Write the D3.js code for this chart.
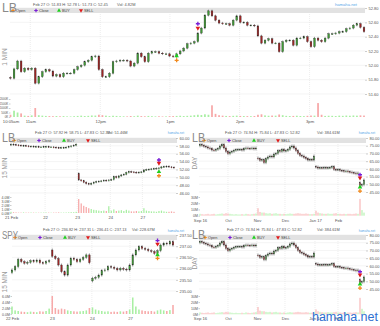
<!DOCTYPE html>
<html>
<head>
<meta charset="utf-8">
<script src="https://cdn.jsdelivr.net/npm/d3@7"></script>
<style>
body { margin: 0; background: #fff; }
svg { display: block; font-family: "Liberation Sans", Arial, sans-serif; }
</style>
</head>
<body>
<svg id="chart" width="380" height="326"></svg>
<script>
// ---- LB 1 minute ----
const min1Closes = [51.82, 51.95, 52.06, 51.91, 51.96, 51.94, 51.96, 51.75, 51.84, 51.91,
  51.94, 51.92, 51.85, 51.87, 51.84, 51.89, 51.89, 51.89, 51.94, 51.98,
  52.00, 52.05, 52.07, 52.12, 52.13, 51.94, 51.84, 51.84, 51.89, 52.05,
  52.06, 52.07, 52.07, 52.06, 51.99, 52.03, 52.17, 52.12, 52.05, 52.17,
  52.19, 52.19, 52.17, 52.16, 52.16, 52.13, 52.12, 52.16, 52.20, 52.24,
  52.30, 52.31, 52.33, 52.45, 52.52, 52.70, 52.76, 52.69, 52.63, 52.59,
  52.58, 52.58, 52.56, 52.63, 52.69, 52.60, 52.60, 52.56, 52.56, 52.55,
  52.41, 52.31, 52.35, 52.37, 52.31, 52.31, 52.19, 52.33, 52.35, 52.35,
  52.28, 52.38, 52.38, 52.40, 52.33, 52.26, 52.38, 52.35, 52.33, 52.38,
  52.44, 52.44, 52.45, 52.47, 52.47, 52.51, 52.52, 52.56, 52.58, 52.53, 52.47];
const min1GapOpens = { 0: 51.83 };
const min1Volume = [250, 700, 500, 400, 150, 120, 180, 1000, 200, 150,
  120, 100, 90, 110, 80, 100, 70, 60, 90, 120,
  150, 110, 130, 170, 160, 250, 200, 150, 100, 140,
  120, 90, 80, 70, 110, 90, 150, 100, 80, 120,
  90, 70, 80, 60, 70, 90, 100, 120, 140, 110,
  130, 150, 200, 250, 220, 300, 250, 1300, 350, 200,
  150, 120, 100, 130, 150, 120, 110, 100, 90, 110,
  250, 300, 180, 140, 160, 150, 280, 200, 130, 110,
  120, 140, 110, 100, 130, 160, 150, 1550, 250, 120,
  140, 130, 110, 150, 130, 160, 140, 170, 150, 180, 160];
const min1TimeTicks = [0, 5.6, 25.4, 45.1, 64.8, 84.6];
const min1TimeLabels = ["10:05am", "11am", "12pm", "1pm", "2pm", "3pm"];
const min1PriceTicks = [51.6, 51.8, 52.0, 52.2, 52.4, 52.6, 52.8];
const min1VolTicks = [0, 500, 1000, 1500, 2000];
const min1VolLabels = ["0K", "500K", "1000K", "1500K", "2000K"];
const min1Marks = [
  { type: "buy", i: 47, v: 52.13 }, { type: "open", i: 47, v: 52.07 },
  { type: "close", i: 53, v: 52.58 }, { type: "sell", i: 53, v: 52.52 }];

// ---- LB 15 minute ----
const lb15Closes = [58.39, 58.31, 58.22, 58.14, 58.05, 58.05, 57.97, 57.88, 57.88, 57.80,
  57.80, 57.71, 57.71, 57.80, 57.80, 57.71, 57.71, 57.63, 57.54, 57.46,
  57.54, 57.54, 57.63, 57.80, 57.97, 58.14, 58.39,
  49.32, 49.10, 48.73, 48.39, 48.22, 48.47, 48.73, 48.90, 48.98, 49.07,
  49.24, 49.15, 49.30, 49.41, 50.17, 49.92, 50.34, 50.59, 50.76, 51.19,
  51.44, 51.36, 51.27, 51.19, 51.27, 51.36, 51.86, 51.95, 52.03, 52.12,
  52.20, 52.29, 52.37, 52.63, 52.71, 52.80, 52.63, 52.54, 52.46];
const lb15GapOpens = { 0: 58.2, 27: 51.0 };
const lb15Volume = [0.3, 0.2, 0.15, 0.1, 0.1, 0.15, 0.1, 0.1, 0.12, 0.1,
  0.1, 0.08, 0.1, 0.1, 0.12, 0.1, 0.08, 0.1, 0.12, 0.15,
  0.1, 0.1, 0.12, 0.15, 0.2, 0.2, 0.3,
  3.5, 2.4, 1.8, 1.5, 1.2,
  1.0, 0.8, 0.7, 0.6, 0.5, 0.6, 0.5, 1.7, 0.6, 0.9,
  0.5, 0.6, 0.7, 0.5, 0.8, 0.6, 0.4, 0.4, 0.5, 0.4,
  0.5, 1.2, 0.6, 0.5, 0.4, 0.4, 0.3, 0.5, 0.6, 0.4,
  0.3, 0.3, 0.4, 0.3];
const lb15TimeTicks = [0, 13.6, 26.4, 39.6, 52.4];
const lb15TimeLabels = ["21 Feb", "22", "23", "24", "27"];
const lb15PriceTicks = [46, 48, 50, 52, 54, 56, 58, 60];
const lb15VolTicks = [0, 1, 2, 3, 4];
const lb15VolLabels = ["0.0M", "1.0M", "2.0M", "3.0M", "4.0M"];
const lb15Marks = [
  { type: "close", i: 59, v: 54.4 }, { type: "sell", i: 59, v: 53.6 },
  { type: "buy", i: 59, v: 51.4 }, { type: "open", i: 59, v: 50.4 }];

// ---- LB daily ----
const dayCloses = [75.7, 75.2, 74.6, 74.2, 73.5, 73.1, 72.2, 72.0, 72.6, 73.1,
  74.8, 75.7, 73.5, 71.3, 69.8, 70.9, 71.3, 72.0, 72.4, 72.6,
  72.6, 72.2, 73.1, 73.5, 73.3, 73.1, 73.5, 72.9, 73.5, 66.6,
  65.5, 65.9, 64.0, 66.6, 67.7, 68.3, 67.7, 69.6, 70.0, 71.8,
  71.3, 72.6, 71.6, 71.8, 72.6, 74.2, 74.8, 73.5, 71.8, 70.0,
  68.7, 68.3, 67.4, 66.6, 65.7, 66.1, 65.7, 68.3, 61.2, 60.5,
  60.7, 60.5, 60.9, 60.5, 60.7, 60.9, 61.4, 59.6, 59.4, 59.6,
  59.0, 58.8, 58.4, 58.6, 58.1, 57.9, 57.5, 57.3, 56.8, 57.3,
  49.3, 49.7, 52.8];
const dayGapOpens = { 0: 74.94, 29: 67.0, 58: 61.5, 80: 51.0 };
const dayVolume = [3, 2.5, 2, 2.5, 3, 2, 2.5, 3, 2, 2.5,
  3, 3.5, 3, 4, 3.5, 3, 2.5, 2, 2.5, 2,
  2, 2.5, 2, 3, 2.5, 2, 2.5, 3, 3.5, 12,
  6, 5, 5, 4, 3.5, 4, 3, 3.5, 4, 3,
  3, 2.5, 3, 2.5, 3, 3.5, 3, 3, 3.5, 4,
  3.5, 3, 3, 3.5, 3, 2.5, 2.5, 3, 8, 5,
  4, 3.5, 3, 3, 3.5, 3, 3, 3.5, 4, 3,
  3, 2.5, 3, 2.5, 3, 3, 2.5, 3, 3.5, 3,
  27, 9, 5];
const dayTimeTicks = [0, 14, 28.5, 42.5, 57.5, 69];
const dayTimeLabels = ["Sep 16", "Oct", "Nov", "Dec", "Jan 17", "Feb"];
const dayPriceTicks = [45, 50, 55, 60, 65, 70, 75, 80];
const dayVolTicks = [0, 10, 20, 30];
const dayVolLabels = ["0M", "10M", "20M", "30M"];
const dayMarks = [
  { type: "close", i: 80, v: 56.2 }, { type: "sell", i: 80, v: 54.2 },
  { type: "buy", i: 80, v: 48.2 }, { type: "open", i: 80, v: 45.6 }];

// ---- SPY 15 minute ----
const spyCloses = [235.94, 236.09, 236.41, 236.31, 236.24, 236.28, 236.35, 236.31, 236.38, 236.26,
  236.24, 236.31, 236.35, 236.55, 236.45, 236.16, 235.86, 235.71, 236.16, 236.46,
  236.41, 236.31, 236.41, 236.50, 236.61, 236.26, 235.57, 235.61, 235.71, 235.91,
  235.94, 236.09, 236.06, 236.01, 235.94, 236.01, 235.97, 235.94, 236.16, 236.61,
  236.83, 236.98, 236.90, 236.86, 236.80, 236.76, 236.68, 236.80, 237.05, 237.13,
  237.10, 237.20, 237.05];
const spyGapOpens = { 0: 235.82, 13: 236.83, 26: 235.45 };
const spyVolume = [2.5, 1.2, 1.0, 0.8, 0.7, 0.6, 0.8, 0.7, 0.6, 0.9,
  0.8, 1.0, 1.8, 6.0, 2.0, 1.5, 1.8, 1.6, 1.2, 1.0,
  0.9, 0.8, 0.9, 1.0, 1.2, 2.0, 2.2, 1.5, 1.2, 1.0,
  0.8, 0.9, 0.7, 0.8, 0.7, 0.9, 0.8, 1.0, 1.5, 5.5,
  2.5, 1.5, 1.2, 1.0, 0.9, 1.0, 0.8, 1.2, 1.5, 1.2,
  1.0, 1.3, 3.0];
const spyTimeTicks = [0, 12.9, 25.8, 38.1];
const spyTimeLabels = ["22 Feb", "23", "24", "27"];
const spyPriceTicks = [235, 235.5, 236, 236.5, 237, 237.5];
const spyVolTicks = [0, 2, 4, 6];
const spyVolLabels = ["0.0M", "2.0M", "4.0M", "6.0M"];
const spyMarks = [
  { type: "close", i: 47, v: 237.25 }, { type: "sell", i: 47, v: 237.10 },
  { type: "buy", i: 47, v: 236.61 }, { type: "open", i: 47, v: 236.46 }];

const legendNames = ["Open", "Close", "BUY", "SELL"];

const svg = d3.select("#chart");

const markColor = { open: "#f0891d", close: "#7a1fd6", buy: "#1fcf1f", sell: "#e01b1b" };
function markPath(type, size) {
  if (type === "open" || type === "close") return d3.symbol(d3.symbolCross, size)();
  return d3.symbol(d3.symbolTriangle, size)();
}

function drawPanel(p) {
  const g = svg.append("g");
  const n = p.closes.length;
  const x = d3.scaleLinear().domain([0, n - 1]).range([p.x0, p.x1]);
  const y = d3.scaleLinear().domain(p.priceDomain).range([p.priceBottom, p.priceTop]);
  const vy = d3.scaleLinear().domain(p.volDomain).range([p.volBottom, p.volTop]);
  const step = (p.x1 - p.x0) / (n - 1);
  const bw = Math.max(0.9, step * 0.5);

  const candles = p.closes.map((c, i) => {
    const o = p.gapOpens[i] !== undefined ? p.gapOpens[i] : p.closes[i - 1];
    return { i: i, o: o, c: c, v: p.volume[i], up: c >= o };
  });

  // horizontal grid
  g.selectAll(".hgrid").data(p.priceTicks).enter().append("line")
    .attr("x1", p.gridX0).attr("x2", p.axisX)
    .attr("y1", d => y(d)).attr("y2", d => y(d))
    .attr("stroke", "#ececec").attr("stroke-width", 0.6);

  // vertical grid
  g.selectAll(".vgrid").data(p.timeTicks.slice(1)).enter().append("line")
    .attr("x1", d => x(d)).attr("x2", d => x(d))
    .attr("y1", p.bandY).attr("y2", p.volBottom)
    .attr("stroke", "#e2e2e2").attr("stroke-width", 0.6)
    .attr("stroke-dasharray", "1,1");

  // legend band
  g.append("rect")
    .attr("x", p.bandX0).attr("y", p.bandY)
    .attr("width", p.bandX1 - p.bandX0).attr("height", 5)
    .attr("fill", "#e2e2e2");

  // right price axis
  const ya = g.append("g")
    .attr("transform", "translate(" + p.axisX + ",0)")
    .call(d3.axisRight(y).tickValues(p.priceTicks).tickSize(2).tickPadding(1.5).tickFormat(d3.format(".2f")));
  ya.select(".domain").remove();
  ya.selectAll("line").attr("stroke", "#999").attr("stroke-width", 0.5);
  ya.selectAll("text").attr("font-size", 4).attr("fill", "#555").attr("font-family", "Liberation Sans, Arial, sans-serif");

  // left volume axis
  const va = g.append("g")
    .attr("transform", "translate(" + p.volAxisX + ",0)")
    .call(d3.axisLeft(vy).tickValues(p.volTicks).tickSize(1.5).tickPadding(0.7)
      .tickFormat((d, i) => p.volLabels[i]));
  va.select(".domain").remove();
  va.selectAll("line").attr("stroke", "#999").attr("stroke-width", 0.5);
  va.selectAll("text").attr("font-size", p.volFont).attr("fill", "#555").attr("font-family", "Liberation Sans, Arial, sans-serif");

  // time axis
  const xa = g.append("g")
    .attr("transform", "translate(0," + p.volBottom + ")")
    .call(d3.axisBottom(x).tickValues(p.timeTicks).tickSize(0).tickPadding(3)
      .tickFormat((d, i) => p.timeLabels[i]));
  xa.select(".domain").remove();
  xa.selectAll("text").attr("font-size", 4.2).attr("fill", "#555").attr("font-family", "Liberation Sans, Arial, sans-serif");

  // volume bars
  g.selectAll(".vol").data(candles).enter().append("rect")
    .attr("x", d => x(d.i) - bw / 2)
    .attr("y", d => vy(d.v))
    .attr("width", bw)
    .attr("height", d => vy(0) - vy(d.v))
    .attr("fill", d => d.up ? "#a9efa3" : "#f7a9a9");

  // candle wicks
  g.selectAll(".wick").data(candles).enter().append("line")
    .attr("x1", d => x(d.i)).attr("x2", d => x(d.i))
    .attr("y1", d => y(Math.max(d.o, d.c)) - p.wick)
    .attr("y2", d => y(Math.min(d.o, d.c)) + p.wick)
    .attr("stroke", "#3a3a3a").attr("stroke-width", 0.5);

  // candle bodies
  g.selectAll(".body").data(candles).enter().append("rect")
    .attr("x", d => x(d.i) - bw / 2)
    .attr("y", d => y(Math.max(d.o, d.c)))
    .attr("width", bw)
    .attr("height", d => Math.max(0.7, Math.abs(y(d.o) - y(d.c))))
    .attr("fill", d => d.up ? "#3f9a35" : "#9c2424")
    .attr("stroke", "#2a2a2a").attr("stroke-width", 0.3);

  // trade markers
  g.selectAll(".mark").data(p.marks).enter().append("path")
    .attr("d", d => markPath(d.type, 9))
    .attr("transform", d => "translate(" + x(d.i) + "," + y(d.v) + ")" + (d.type === "sell" ? " rotate(180)" : ""))
    .attr("fill", d => markColor[d.type]);

  // legend
  const types = ["open", "close", "buy", "sell"];
  p.legendX.forEach((lx, k) => {
    g.append("path")
      .attr("d", markPath(types[k], 7))
      .attr("transform", "translate(" + lx + "," + (p.bandY + 2.5) + ")" + (types[k] === "sell" ? " rotate(180)" : ""))
      .attr("fill", markColor[types[k]]);
    g.append("text")
      .attr("x", lx + 3).attr("y", p.bandY + 3.9)
      .attr("font-size", 3.8).attr("fill", "#444")
      .text(legendNames[k]);
  });

  // titles
  g.append("text")
    .attr("x", p.titleX).attr("y", p.titleY)
    .attr("font-size", p.titleSize).attr("fill", "#8a8a8a")
    .attr("textLength", p.titleWidth).attr("lengthAdjust", "spacingAndGlyphs")
    .text(p.symbol);
  g.append("text")
    .attr("x", p.infoX).attr("y", p.infoY)
    .attr("font-size", 3.9).attr("fill", "#555")
    .text(p.info);
  g.append("text")
    .attr("x", p.volInfoX).attr("y", p.infoY)
    .attr("font-size", 3.9).attr("fill", "#555")
    .text(p.volInfo);
  g.append("text")
    .attr("x", p.linkEnd).attr("y", p.infoY + 0.5)
    .attr("text-anchor", "end")
    .attr("font-size", p.linkSize).attr("fill", "#5aa7e8")
    .text("hamaha.net");
  g.append("text")
    .attr("transform", "translate(" + p.labelX + "," + p.labelY + ") rotate(-90)")
    .attr("text-anchor", "middle")
    .attr("font-size", 6.5).attr("fill", "#999")
    .text(p.period);
}

drawPanel({
  symbol: "LB", period: "1 MIN", titleSize: 12, titleWidth: 15,
  info: "Feb 27 O: 51.83 H: 52.78 L: 51.73 C: 52.45", volInfo: "Vol: 4.82M",
  closes: min1Closes, gapOpens: min1GapOpens, volume: min1Volume, marks: min1Marks,
  timeTicks: min1TimeTicks, timeLabels: min1TimeLabels,
  priceTicks: min1PriceTicks, volTicks: min1VolTicks, volLabels: min1VolLabels, volFont: 3,
  x0: 10.5, x1: 364, priceDomain: [51.6, 52.8], priceBottom: 94, priceTop: 8,
  volDomain: [0, 2000], volBottom: 117, volTop: 99,
  axisX: 365, volAxisX: 10.5, gridX0: 10,
  bandX0: 10, bandX1: 365, bandY: 8,
  legendX: [13, 36, 59, 81],
  titleX: 2, titleY: 12, infoX: 33, infoY: 5.5, volInfoX: 117, linkEnd: 357, linkSize: 4.2,
  labelX: 7, labelY: 57, wick: 1.2
});

drawPanel({
  symbol: "LB", period: "15 MIN", titleSize: 12, titleWidth: 13,
  info: "Feb 27 O: 57.92 H: 58.75 L: 47.83 C: 52.39", volInfo: "Vol: 51.46M",
  closes: lb15Closes, gapOpens: lb15GapOpens, volume: lb15Volume, marks: lb15Marks,
  timeTicks: lb15TimeTicks, timeLabels: lb15TimeLabels,
  priceTicks: lb15PriceTicks, volTicks: lb15VolTicks, volLabels: lb15VolLabels, volFont: 3.5,
  x0: 11, x1: 174, priceDomain: [46, 60], priceBottom: 193, priceTop: 138,
  volDomain: [0, 4], volBottom: 213, volTop: 197,
  axisX: 176, volAxisX: 11.5, gridX0: 10,
  bandX0: 10, bandX1: 177, bandY: 138,
  legendX: [14, 39, 64, 88],
  titleX: 2, titleY: 142, infoX: 35, infoY: 133.5, volInfoX: 107, linkEnd: 184, linkSize: 3.1,
  labelX: 7, labelY: 168, wick: 1
});

drawPanel({
  symbol: "LB", period: "DAY", titleSize: 12, titleWidth: 13,
  info: "Feb 27 O: 74.94 H: 75.84 L: 47.83 C: 52.82", volInfo: "Vol: 384.61M",
  closes: dayCloses, gapOpens: dayGapOpens, volume: dayVolume, marks: dayMarks,
  timeTicks: dayTimeTicks, timeLabels: dayTimeLabels,
  priceTicks: dayPriceTicks, volTicks: dayVolTicks, volLabels: dayVolLabels, volFont: 3.5,
  x0: 200, x1: 364, priceDomain: [45, 80], priceBottom: 192, priceTop: 138,
  volDomain: [0, 30], volBottom: 215.7, volTop: 197,
  axisX: 366, volAxisX: 200, gridX0: 199,
  bandX0: 199, bandX1: 366, bandY: 138,
  legendX: [204, 229, 254, 278],
  titleX: 192, titleY: 142, infoX: 225, infoY: 133.5, volInfoX: 317, linkEnd: 375, linkSize: 3.1,
  labelX: 197, labelY: 163, wick: 1.5
});

drawPanel({
  symbol: "SPY", period: "15 MIN", titleSize: 10, titleWidth: 16,
  info: "Feb 27 O: 236.82 H: 237.31 L: 236.41 C: 237.13", volInfo: "Vol: 228.67M",
  closes: spyCloses, gapOpens: spyGapOpens, volume: spyVolume, marks: spyMarks,
  timeTicks: spyTimeTicks, timeLabels: spyTimeLabels,
  priceTicks: spyPriceTicks, volTicks: spyVolTicks, volLabels: spyVolLabels, volFont: 3.5,
  x0: 12, x1: 173, priceDomain: [235, 237.5], priceBottom: 291, priceTop: 235,
  volDomain: [0, 6], volBottom: 314, volTop: 296,
  axisX: 176, volAxisX: 12, gridX0: 12,
  bandX0: 12, bandX1: 177, bandY: 235,
  legendX: [15, 40, 65, 88],
  titleX: 2, titleY: 239, infoX: 43, infoY: 231, volInfoX: 132, linkEnd: 184, linkSize: 3.1,
  labelX: 7, labelY: 282, wick: 1.5
});

drawPanel({
  symbol: "LB", period: "DAY", titleSize: 12, titleWidth: 13,
  info: "Feb 27 O: 74.94 H: 75.84 L: 47.83 C: 52.82", volInfo: "Vol: 384.61M",
  closes: dayCloses, gapOpens: dayGapOpens, volume: dayVolume, marks: dayMarks,
  timeTicks: dayTimeTicks, timeLabels: dayTimeLabels,
  priceTicks: dayPriceTicks, volTicks: dayVolTicks, volLabels: dayVolLabels, volFont: 3.5,
  x0: 200, x1: 364, priceDomain: [45, 80], priceBottom: 289, priceTop: 235,
  volDomain: [0, 30], volBottom: 314.3, volTop: 296,
  axisX: 366, volAxisX: 200, gridX0: 199,
  bandX0: 199, bandX1: 366, bandY: 235,
  legendX: [205, 230, 254, 278],
  titleX: 192, titleY: 239, infoX: 227, infoY: 231, volInfoX: 317, linkEnd: 375, linkSize: 3.1,
  labelX: 197, labelY: 263, wick: 1.5
});

// watermark
svg.append("text")
  .attr("x", 378).attr("y", 321)
  .attr("text-anchor", "end")
  .attr("font-size", 12.5).attr("fill", "#2f6fd0")
  .text("hamaha.net");
</script>
</body>
</html>
